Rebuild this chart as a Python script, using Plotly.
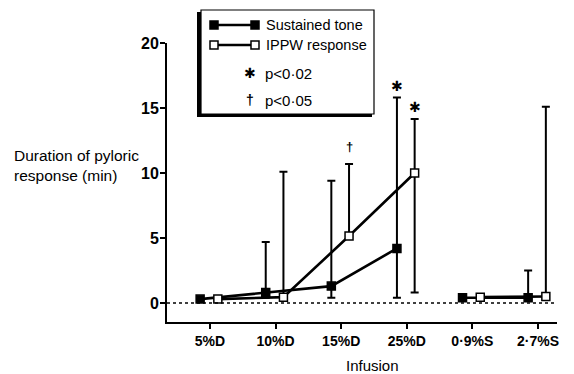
import plotly.graph_objects as go

# ---------------- data ----------------
categories = ["5%D", "10%D", "15%D", "25%D", "0·9%S", "2·7%S"]
groups = ["D", "D", "D", "D", "S", "S"]

sustained = [0.3, 0.8, 1.3, 4.2, 0.4, 0.4]
sustained_upper = [None, 4.7, 9.4, 15.8, None, 2.5]
sustained_lower = [None, 0.4, 0.4, 0.4, None, None]

ippw = [0.3, 0.45, 5.15, 10.0, 0.45, 0.5]
ippw_upper = [None, 10.1, 10.7, 14.15, None, 15.1]
ippw_lower = [None, None, None, 0.8, None, None]

y_ticks = [0, 5, 10, 15, 20]

# significance marks: (symbol, category index, series)
sig_marks = [("✱", 3, "sustained"), ("✱", 3, "ippw"), ("†", 2, "ippw")]

# ---------------- layout geometry (page pixels) ----------------
W, H = 574, 374
L, R, T, B = 167, 557, 43, 322
OFF = {"sustained": -0.15, "ippw": 0.12}
FONT = "Liberation Sans, Arial, sans-serif"


def px(x):
    return (x - L) / (R - L)


def py(y):
    return (B - y) / (B - T)


fig = go.Figure()


def add_series(values, upper, lower, key, filled):
    for g in ["D", "S"]:
        idx = [i for i, gg in enumerate(groups) if gg == g]
        xs = [i + OFF[key] for i in idx]
        ys = [values[i] for i in idx]
        plus = [None if upper[i] is None else upper[i] - values[i] for i in idx]
        minus = [None if lower[i] is None else values[i] - lower[i] for i in idx]
        fig.add_trace(go.Scatter(
            x=xs, y=ys, mode="lines+markers", showlegend=False,
            line=dict(color="black", width=2.6),
            marker=dict(symbol="square", size=8,
                        color="black" if filled else "white",
                        line=dict(color="black", width=1.5)),
            error_y=dict(type="data", symmetric=False, array=plus,
                         arrayminus=minus, color="black", thickness=2,
                         width=4),
            cliponaxis=False,
        ))


add_series(sustained, sustained_upper, sustained_lower, "sustained", True)
add_series(ippw, ippw_upper, ippw_lower, "ippw", False)


def txt(x, y, text, size=15, family=FONT, xanchor="center", weight="normal", **kw):
    d = dict(x=x, y=y, text=text, showarrow=False, xanchor=xanchor,
             yanchor="middle",
             font=dict(family=family, size=size, color="black", weight=weight))
    d.update(kw)
    return d


series_upper = {"sustained": sustained_upper, "ippw": ippw_upper}
annotations = []
for sym, i, key in sig_marks:
    star = sym == "✱"
    annotations.append(txt(i + OFF[key], series_upper[key][i], sym,
                           size=14 if star else 13,
                           family="DejaVu Sans" if star else FONT,
                           weight="normal" if star else "bold",
                           xref="x", yref="y", yshift=12 if star else 17))

# axis titles
annotations.append(txt(px(372), py(365), "Infusion", xref="paper", yref="paper"))
annotations.append(txt(px(12), py(165), "Duration of pyloric<br>response (min)",
                       size=15.5, xanchor="left", align="left",
                       xref="paper", yref="paper"))

shapes = []
# dotted zero line
shapes.append(dict(type="line", xref="paper", yref="y", x0=0, x1=1, y0=0, y1=0,
                   line=dict(color="black", width=1.5, dash="dot")))

# legend box with shadow
shapes.append(dict(type="rect", xref="paper", yref="paper",
                   x0=px(197), x1=px(372), y0=py(117), y1=py(12),
                   fillcolor="black", line=dict(width=0)))
shapes.append(dict(type="rect", xref="paper", yref="paper",
                   x0=px(201), x1=px(374), y0=py(114), y1=py(10),
                   fillcolor="white", line=dict(color="black", width=1.2)))

legend_rows = [("Sustained tone", 25, True), ("IPPW response", 45, False)]
for label, yy, filled in legend_rows:
    shapes.append(dict(type="line", xref="paper", yref="paper",
                       x0=px(214), x1=px(255), y0=py(yy), y1=py(yy),
                       line=dict(color="black", width=2.6)))
    for cx in (214, 255):
        shapes.append(dict(type="rect", xref="paper", yref="paper",
                           x0=px(cx - 4), x1=px(cx + 4),
                           y0=py(yy + 4), y1=py(yy - 4),
                           fillcolor="black" if filled else "white",
                           line=dict(color="black", width=1.5)))
    annotations.append(txt(px(264), py(yy), label, size=14.5, xanchor="left",
                           xref="paper", yref="paper"))

for sym, label, yy, sx in [("✱", "p<0·02", 73, 250), ("†", "p<0·05", 100, 250)]:
    star = sym == "✱"
    annotations.append(txt(px(sx), py(yy), sym, size=14 if star else 14,
                           family="DejaVu Sans" if star else FONT,
                           weight="normal" if star else "bold",
                           xref="paper", yref="paper"))
    annotations.append(txt(px(263), py(yy), label, size=15, xanchor="left",
                           xref="paper", yref="paper"))

fig.update_layout(
    width=W, height=H,
    margin=dict(l=L, r=W - R, t=T, b=H - B),
    paper_bgcolor="white", plot_bgcolor="white",
    showlegend=False,
    xaxis=dict(range=[-0.655, 5.29], tickmode="array",
               tickvals=list(range(len(categories))), ticktext=categories,
               showline=True, linecolor="black", linewidth=2,
               ticks="outside", ticklen=5, tickwidth=2, tickcolor="black",
               showgrid=False, zeroline=False,
               tickfont=dict(family=FONT, size=14, color="black", weight="bold")),
    yaxis=dict(range=[-1.46, 20], tickmode="array", tickvals=y_ticks,
               showline=True, linecolor="black", linewidth=2,
               ticks="outside", ticklen=5, tickwidth=2, tickcolor="black",
               ticklabelstandoff=-2,
               showgrid=False, zeroline=False,
               tickfont=dict(family=FONT, size=16, color="black", weight="bold")),
    shapes=shapes,
    annotations=annotations,
)

fig.write_html("out.html")
